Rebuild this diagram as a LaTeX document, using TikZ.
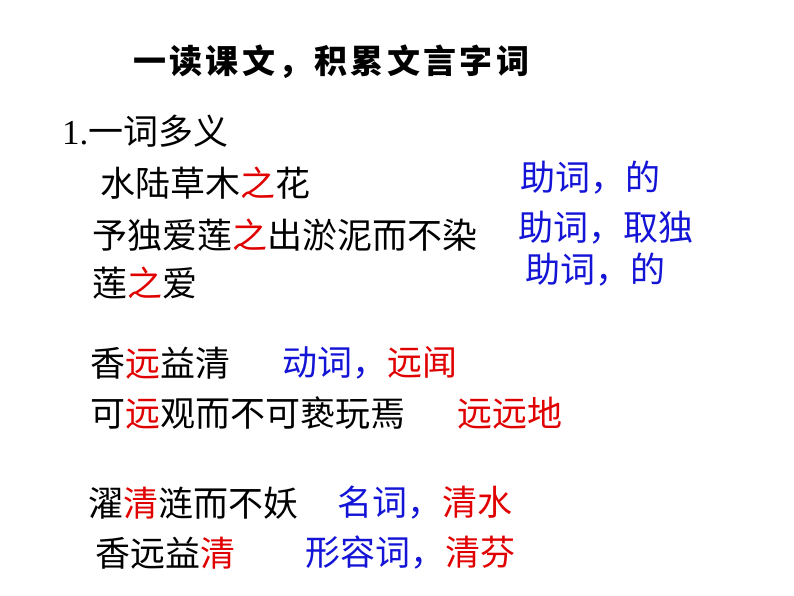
\documentclass[tikz,border=0pt]{standalone}
\usepackage{fontspec}
\setmainfont{Noto Sans CJK SC}
\newfontfamily\numfont{Liberation Serif}
\newfontfamily\titlefont[LetterSpace=10]{Noto Sans CJK SC}
\definecolor{keyred}{RGB}{225,0,0}
\definecolor{noteblue}{RGB}{20,20,215}
\newcommand{\kr}[1]{\textcolor{keyred}{#1}}
\newcommand{\nb}[1]{\textcolor{noteblue}{#1}}

\begin{document}
\begin{tikzpicture}[x=1pt,y=-1pt]
        % Define styles
        \tikzset{
            line/.style={anchor=west, inner sep=0pt, font=\fontsize{35}{38}\selectfont},
            title/.style={anchor=west, inner sep=0pt, font=\titlefont\fontsize{33}{36}\selectfont\bfseries}
        }
        \useasboundingbox (0,0) rectangle (794,596);

        % Title
        \node[title] (title_line) at (133,62) {一读课文，积累文言字词};

        % Part 1
        \node[line] (part_head) at (62,131) {{\numfont 1.}一词多义};
        \node[line] (phrase_1) at (100,183) {水陆草木\kr{之}花};
        \node[line] (phrase_2) at (92,235) {予独爱莲\kr{之}出淤泥而不染};
        \node[line] (phrase_3) at (92,283) {莲\kr{之}爱};
        \node[line] (note_1) at (520,178) {\nb{助词，的}};
        \node[line] (note_2) at (518,228) {\nb{助词，取独}};
        \node[line] (note_3) at (525,270) {\nb{助词，的}};

        % 远
        \node[line] (phrase_4) at (90,363) {香\kr{远}益清};
        \node[line] (note_4) at (282,363) {\nb{动词，}\kr{远闻}};
        \node[line] (phrase_5) at (90,413) {可\kr{远}观而不可亵玩焉};
        \node[line] (note_5) at (457,413) {\kr{远远地}};

        % 清
        \node[line] (phrase_6) at (88,503) {濯\kr{清}涟而不妖};
        \node[line] (note_6) at (337,503) {\nb{名词，}\kr{清水}};
        \node[line] (phrase_7) at (95,553) {香远益\kr{清}};
        \node[line] (note_7) at (305,553) {\nb{形容词，}\kr{清芬}};
\end{tikzpicture}
\end{document}
